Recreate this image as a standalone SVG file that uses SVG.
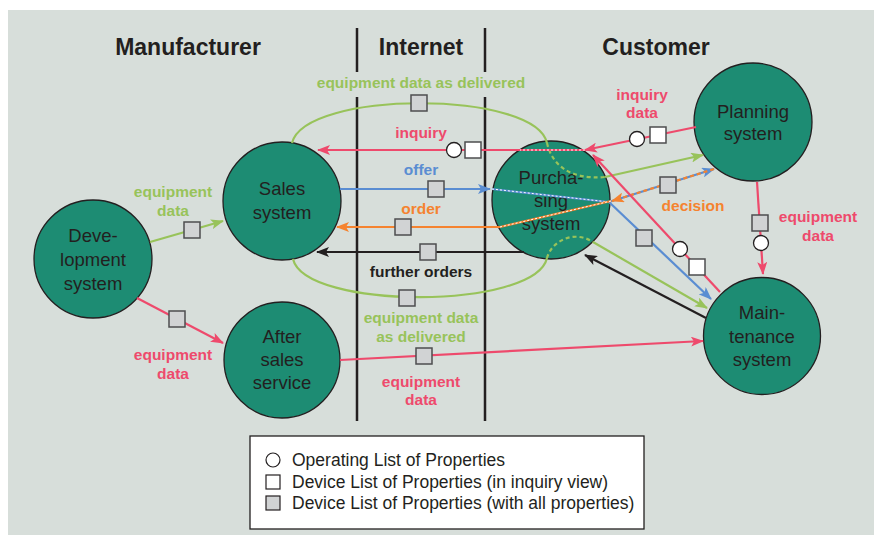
<svg xmlns="http://www.w3.org/2000/svg" width="874" height="535" viewBox="0 0 874 535">
<defs>
<style>
.bg{fill:#d7deda}
.sep{stroke:#231f20;stroke-width:2.5;fill:none}
.head{font-family:"Liberation Sans",Arial,sans-serif;font-weight:bold;font-size:23px;fill:#231f20;text-anchor:middle}
.node circle{fill:#1d8c73;stroke:#231f20;stroke-width:1.3}
.node text{font-family:"Liberation Sans",Arial,sans-serif;font-size:18.5px;fill:#231f20;text-anchor:middle}
.lbl{font-family:"Liberation Sans",Arial,sans-serif;font-weight:bold;font-size:15.5px;text-anchor:middle}
.line{fill:none;stroke-width:2.2}
.red{stroke:#ee4a6c}.green{stroke:#98c35a}.blue{stroke:#5a8dd2}.orange{stroke:#f5832f}.black{stroke:#231f20}
.tred{fill:#ee4a6c}.tgreen{fill:#98c35a}.tblue{fill:#5a8dd2}.torange{fill:#f5832f}.tblack{fill:#231f20}
.dots{fill:none;stroke:#ffffff;stroke-width:1;stroke-dasharray:2 2}
.gdash{fill:none;stroke:#98c35a;stroke-width:2.2;stroke-dasharray:4 3}
.odash{fill:none;stroke:#f5832f;stroke-width:2.2;stroke-dasharray:4 3}
.sqg{fill:#d1d3d4;stroke:#4d4d4f;stroke-width:1.5}
.sqw{fill:#ffffff;stroke:#4d4d4f;stroke-width:1.5}
.crc{fill:#ffffff;stroke:#231f20;stroke-width:1.3}
.leg{font-family:"Liberation Sans",Arial,sans-serif;font-size:17.5px;fill:#231f20}
</style>
<marker id="ar" viewBox="0 0 13 10" refX="12" refY="5" markerWidth="13" markerHeight="10" markerUnits="userSpaceOnUse" orient="auto"><path d="M0,0 L13,5 L0,10 L3,5 z" fill="#ee4a6c"/></marker>
<marker id="ag" viewBox="0 0 13 10" refX="12" refY="5" markerWidth="13" markerHeight="10" markerUnits="userSpaceOnUse" orient="auto"><path d="M0,0 L13,5 L0,10 L3,5 z" fill="#98c35a"/></marker>
<marker id="ab" viewBox="0 0 13 10" refX="12" refY="5" markerWidth="13" markerHeight="10" markerUnits="userSpaceOnUse" orient="auto"><path d="M0,0 L13,5 L0,10 L3,5 z" fill="#5a8dd2"/></marker>
<marker id="ao" viewBox="0 0 13 10" refX="12" refY="5" markerWidth="13" markerHeight="10" markerUnits="userSpaceOnUse" orient="auto"><path d="M0,0 L13,5 L0,10 L3,5 z" fill="#f5832f"/></marker>
<marker id="ak" viewBox="0 0 13 10" refX="12" refY="5" markerWidth="13" markerHeight="10" markerUnits="userSpaceOnUse" orient="auto"><path d="M0,0 L13,5 L0,10 L3,5 z" fill="#231f20"/></marker>
</defs>

<rect class="bg" x="8" y="10" width="866" height="525"/>

<g id="zones">
<line class="sep" x1="357" y1="28" x2="357" y2="72"/>
<line class="sep" x1="357" y1="97" x2="357" y2="421"/>
<line class="sep" x1="485" y1="28" x2="485" y2="72"/>
<line class="sep" x1="485" y1="97" x2="485" y2="421"/>
<text class="head" x="188" y="55">Manufacturer</text>
<text class="head" x="421" y="55">Internet</text>
<text class="head" x="656" y="55">Customer</text>
</g>

<g id="node-development" class="node">
<circle cx="93" cy="259" r="59"/>
<text x="93" y="242">Deve-</text>
<text x="93" y="266">lopment</text>
<text x="93" y="290">system</text>
</g>
<g id="node-sales" class="node">
<circle cx="282" cy="201" r="59"/>
<text x="282" y="195">Sales</text>
<text x="282" y="219">system</text>
</g>
<g id="node-aftersales" class="node">
<circle cx="282" cy="360" r="58"/>
<text x="282" y="343">After</text>
<text x="282" y="366">sales</text>
<text x="282" y="389">service</text>
</g>
<g id="node-purchasing" class="node">
<circle cx="551" cy="200" r="59"/>
<text x="551" y="184">Purcha-</text>
<text x="551" y="207">sing</text>
<text x="551" y="230">system</text>
</g>
<g id="node-planning" class="node">
<circle cx="753" cy="122" r="59"/>
<text x="753" y="118">Planning</text>
<text x="753" y="140">system</text>
</g>
<g id="node-maintenance" class="node">
<circle cx="762" cy="336" r="58.5"/>
<text x="762" y="319">Main-</text>
<text x="762" y="343">tenance</text>
<text x="762" y="366">system</text>
</g>

<g id="connectors">
<path class="line green" d="M292,143 C305,90 535,90 547,143"/>
<path class="gdash" d="M547,143 C552,165 570,180 605,177"/>
<path class="line green" d="M605,177 L703,155" marker-end="url(#ag)"/>
<path class="line green" d="M293,259 C305,310 535,310 547,258"/>
<path class="gdash" d="M547,258 C552,240 575,230 593,242"/>
<path class="line green" d="M593,242 L707,308" marker-end="url(#ag)"/>
<path class="line green" d="M150,242 L223,221" marker-end="url(#ag)"/>
<path class="line red" d="M137,298 L223,343" marker-end="url(#ar)"/>
<path class="line red" d="M340,360 L703,341" marker-end="url(#ar)"/>
<path class="line red" d="M696,127 L585,150" marker-end="url(#ar)"/>
<path class="line red" d="M585,150 L520,150"/>
<path class="dots" d="M585,150 L520,150"/>
<path class="line red" d="M520,150 L318,150" marker-end="url(#ar)"/>
<path class="line blue" d="M340,189 L490,189" marker-end="url(#ab)"/>
<path class="line blue" d="M492,189 L609,202"/>
<path class="dots" d="M492,189 L609,202"/>
<path class="line blue" d="M609,202 L711,299" marker-end="url(#ab)"/>
<path class="line blue" d="M609,202 L714,169" marker-end="url(#ab)"/>
<path class="odash" d="M714,169 L612,201" marker-end="url(#ao)"/>
<path class="line orange" d="M611,201 L500,227"/>
<path class="dots" d="M611,201 L500,227"/>
<path class="line orange" d="M500,227 L337,227" marker-end="url(#ao)"/>
<path class="line black" d="M524,252 L317,252" marker-end="url(#ak)"/>
<path class="line black" d="M706,318 L585,255" marker-end="url(#ak)"/>
<path class="line red" d="M720,292 L593,155" marker-end="url(#ar)"/>
<path class="line red" d="M757,182 L763,274" marker-end="url(#ar)"/>

<rect class="sqg" x="411" y="95" width="16" height="16"/>
<rect class="sqg" x="399" y="290" width="16" height="16"/>
<rect class="sqg" x="184" y="222" width="16" height="16"/>
<rect class="sqg" x="169" y="311" width="16" height="16"/>
<rect class="sqg" x="416" y="348" width="16" height="16"/>
<circle class="crc" cx="637" cy="139" r="7.5"/>
<rect class="sqw" x="650" y="127" width="16" height="16"/>
<circle class="crc" cx="454" cy="150" r="7.5"/>
<rect class="sqw" x="465" y="142" width="16" height="16"/>
<rect class="sqg" x="428" y="181" width="16" height="16"/>
<rect class="sqg" x="636" y="230" width="16" height="16"/>
<rect class="sqg" x="660" y="177" width="16" height="16"/>
<rect class="sqg" x="395" y="219" width="16" height="16"/>
<rect class="sqg" x="420" y="244" width="16" height="16"/>
<circle class="crc" cx="680" cy="249" r="7.5"/>
<rect class="sqw" x="689" y="259" width="16" height="16"/>
<rect class="sqg" x="752" y="215" width="16" height="16"/>
<circle class="crc" cx="761" cy="243" r="7.5"/>

<text class="lbl tgreen" x="421" y="88">equipment data as delivered</text>
<text class="lbl tred" x="421" y="138">inquiry</text>
<text class="lbl tblue" x="421" y="175">offer</text>
<text class="lbl torange" x="421" y="214">order</text>
<text class="lbl tblack" x="421" y="277">further orders</text>
<text class="lbl tgreen" x="421" y="323">equipment data</text>
<text class="lbl tgreen" x="421" y="342">as delivered</text>
<text class="lbl tred" x="421" y="387">equipment</text>
<text class="lbl tred" x="421" y="405">data</text>
<text class="lbl tgreen" x="173" y="197">equipment</text>
<text class="lbl tgreen" x="173" y="216">data</text>
<text class="lbl tred" x="173" y="360">equipment</text>
<text class="lbl tred" x="173" y="379">data</text>
<text class="lbl tred" x="642" y="100">inquiry</text>
<text class="lbl tred" x="642" y="118">data</text>
<text class="lbl torange" x="693" y="211">decision</text>
<text class="lbl tred" x="818" y="222">equipment</text>
<text class="lbl tred" x="818" y="241">data</text>
</g>

<g id="legend">
<rect x="250" y="436" width="394" height="93" fill="#ffffff" stroke="#231f20" stroke-width="1.3"/>
<circle cx="273" cy="460" r="7" fill="#ffffff" stroke="#231f20" stroke-width="1.2"/>
<rect x="266" y="475" width="14" height="14" fill="#ffffff" stroke="#231f20" stroke-width="1.2"/>
<rect x="266" y="496" width="14" height="14" fill="#d1d3d4" stroke="#231f20" stroke-width="1.2"/>
<text class="leg" x="292" y="466">Operating List of Properties</text>
<text class="leg" x="292" y="488">Device List of Properties (in inquiry view)</text>
<text class="leg" x="292" y="509">Device List of Properties (with all properties)</text>
</g>
</svg>
